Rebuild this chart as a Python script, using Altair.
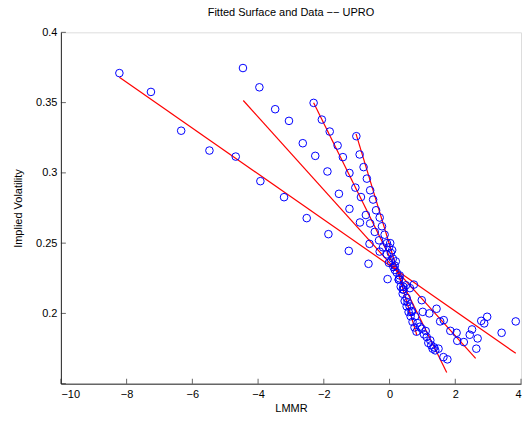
import altair as alt
import pandas as pd

# ---- data ----
A_x = [-8.22, -7.26, -6.34, -5.48, -4.68, -3.93, -3.21, -2.52, -1.86, -1.24, -0.64, -0.06,
       0.42, 0.74, 0.98, 1.43, 1.65, 2.51, 2.79, 2.97, 3.41, 3.84]
A_y = [0.371, 0.3576, 0.330, 0.3159, 0.3116, 0.2941, 0.2827, 0.2678, 0.2564, 0.2445, 0.2353, 0.2244,
       0.2190, 0.2205, 0.2094, 0.2033, 0.1952, 0.1886, 0.1947, 0.1976, 0.1862, 0.1943]

B_x = [-4.46, -3.96, -3.48, -3.06, -2.64, -2.26, -1.89, -1.54, -1.22, -0.90, -0.61, -0.30,
       -0.02, 0.12, 0.30, 0.50, 0.62, 1.01, 1.21, 1.54, 1.85, 2.04, 2.06, 2.26, 2.44, 2.64, 2.68, 2.88]
B_y = [0.3746, 0.3609, 0.3453, 0.337, 0.3211, 0.3121, 0.301, 0.2851, 0.2744, 0.2647, 0.2495, 0.2440,
       0.2360, 0.2330, 0.2250, 0.2200, 0.2180, 0.2011, 0.2000, 0.1943, 0.1876, 0.1862, 0.1805, 0.1796,
       0.1848, 0.1749, 0.1822, 0.1929]

C_x = [-2.31, -2.06, -1.82, -1.58, -1.42, -1.22, -1.04, -0.87, -0.72, -0.59, -0.45, -0.32, -0.20,
       -0.08, 0.04, 0.16, 0.28, 0.40, 0.52, 0.61, 0.68, 0.78, 0.85, 0.92, 0.98, 1.05, 1.10, 1.13,
       1.18, 1.24, 1.27, 1.31, 1.36, 1.39, 1.49, 1.64, 1.76]
C_y = [0.3498, 0.3379, 0.3294, 0.3195, 0.3112, 0.2999, 0.2895, 0.2828, 0.2700, 0.2640, 0.2580,
       0.2520, 0.2470, 0.2420, 0.2370, 0.2310, 0.2240, 0.2170, 0.2110, 0.2050, 0.2017, 0.1979,
       0.1931, 0.1905, 0.1891, 0.1851, 0.1875, 0.1832, 0.1790, 0.1808, 0.1773, 0.1749, 0.1758,
       0.1737, 0.1749, 0.1689, 0.1673]

D_x = [-1.01, -0.91, -0.79, -0.69, -0.59, -0.50, -0.41, -0.30, -0.23, -0.15, -0.08, -0.02, 0.02,
       0.04, 0.08, 0.10, 0.16, 0.19, 0.22, 0.28, 0.31, 0.34, 0.40, 0.43, 0.46, 0.52, 0.55, 0.58,
       0.64, 0.67, 0.70, 0.76, 0.82]
D_y = [0.3261, 0.3131, 0.3041, 0.2959, 0.2876, 0.2810, 0.2734, 0.2682, 0.2620, 0.2560, 0.2500,
       0.2470, 0.2500, 0.2430, 0.2450, 0.2390, 0.2340, 0.2370, 0.2290, 0.2240, 0.2270, 0.2190,
       0.2140, 0.2170, 0.2088, 0.2050, 0.2080, 0.2010, 0.1980, 0.2010, 0.1940, 0.1900, 0.1870]

# fitted lines (end points of each fitted slice)
FIT_series = ["A", "A", "B", "B", "C", "C", "D", "D"]
FIT_x = [-8.22, 3.84, -4.45, 2.62, -2.31, 1.74, -1.02, 0.83]
FIT_y = [0.368, 0.1716, 0.3515, 0.168, 0.3499, 0.158, 0.3278, 0.1846]

X_TICKS = [-10, -8, -6, -4, -2, 0, 2, 4]
Y_TICKS = [0.2, 0.25, 0.3, 0.35, 0.4]
Y_TICKS_ALL = [0.15, 0.2, 0.25, 0.3, 0.35, 0.4]

TITLE = "Fitted Surface and Data −− UPRO"
X_TITLE = "LMMR"
Y_TITLE = "Implied Volatility"

# ---- tables ----
pts = pd.concat([
    pd.DataFrame({"series": s, "x": xs, "y": ys})
    for s, xs, ys in [("A", A_x, A_y), ("B", B_x, B_y), ("C", C_x, C_y), ("D", D_x, D_y)]
])
fit = pd.DataFrame({"series": FIT_series, "x": FIT_x, "y": FIT_y})
xt = pd.DataFrame({"v": X_TICKS})
yt = pd.DataFrame({"v": Y_TICKS_ALL})

W, H = 461, 352
FONT = "Liberation Sans"
AX = "#262626"

xscale = alt.Scale(domain=[-10, 4], nice=False, zero=False)
yscale = alt.Scale(domain=[0.15, 0.4], nice=False, zero=False)

xaxis = alt.Axis(values=X_TICKS, tickSize=0, grid=False, domainColor=AX, labelColor="black",
                 labelFont=FONT, labelFontSize=11, labelPadding=5, title=X_TITLE,
                 titleFont=FONT, titleFontSize=11, titleFontWeight="normal", titlePadding=3,
                 titleColor="black")
yaxis = alt.Axis(values=Y_TICKS, tickSize=0, grid=False, domainColor=AX, labelColor="black",
                 labelFont=FONT, labelFontSize=11, labelPadding=4, format=".2~f", title=Y_TITLE,
                 titleFont=FONT, titleFontSize=11, titleFontWeight="normal", titlePadding=12,
                 titleColor="black")

points = alt.Chart(pts).mark_point(shape="circle", filled=False, color="#0000ff",
                                   size=58, strokeWidth=1, opacity=1).encode(
    x=alt.X("x:Q", scale=xscale, axis=xaxis),
    y=alt.Y("y:Q", scale=yscale, axis=yaxis),
)

lines = alt.Chart(fit).mark_line(color="#ff0000", strokeWidth=1.2).encode(
    x=alt.X("x:Q", scale=xscale),
    y=alt.Y("y:Q", scale=yscale),
    detail="series:N",
)

xticks = alt.Chart(xt).mark_tick(orient="vertical", size=5, thickness=1, color=AX).encode(
    x=alt.X("v:Q", scale=xscale),
    y=alt.value(H - 2.5),
)
yticks = alt.Chart(yt).mark_tick(orient="horizontal", size=5, thickness=1, color=AX).encode(
    y=alt.Y("v:Q", scale=yscale),
    x=alt.value(2.5),
)

chart = alt.layer(lines, points, xticks, yticks).properties(
    width=W, height=H,
    title=alt.TitleParams(TITLE, font=FONT, fontSize=11, fontWeight="normal", color="black",
                          anchor="middle", offset=8),
    padding={"left": 61, "top": 32, "right": 4, "bottom": 40},
    autosize=alt.AutoSizeParams(type="none"),
).configure_view(stroke=None).configure(background="white")

chart.save("out.html", embed_options={"renderer": "svg", "actions": False})
